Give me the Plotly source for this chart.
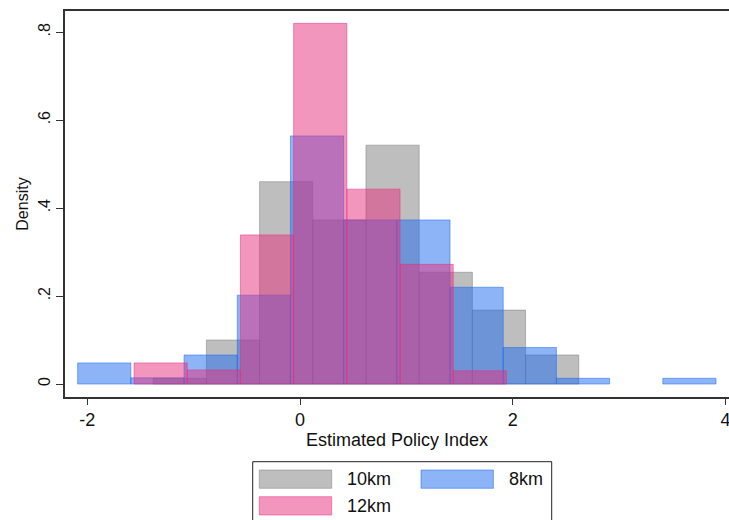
import plotly.graph_objects as go

# histogram bins (left edge of each bin) and densities
bin_width = 0.5

km10_bins = [-1.38, -0.88, -0.38, 0.12, 0.62, 1.12, 1.62, 2.12]
km10_density = [0.013, 0.10, 0.46, 0.373, 0.543, 0.254, 0.168, 0.066]

km8_bins = [-2.09, -1.59, -1.09, -0.59, -0.09, 0.41, 0.91, 1.41, 1.91, 2.41, 2.91, 3.41]
km8_density = [0.048, 0.014, 0.066, 0.202, 0.564, 0.373, 0.373, 0.22, 0.083, 0.013, 0.0, 0.013]

km12_bins = [-1.56, -1.06, -0.56, -0.06, 0.44, 0.94, 1.44]
km12_density = [0.048, 0.032, 0.339, 0.82, 0.443, 0.272, 0.030]

y_ticks = [0, 0.2, 0.4, 0.6, 0.8]
y_tick_text = ["0", ".2", ".4", ".6", ".8"]
x_ticks = [-2, 0, 2, 4]
x_tick_text = ["-2", "0", "2", "4"]

gray = "rgba(125,125,125,0.5)"
blue = "rgba(25,105,238,0.5)"
pink = "rgba(232,45,125,0.5)"

series = [
    ("10km", km10_bins, km10_density, gray),
    ("8km", km8_bins, km8_density, blue),
    ("12km", km12_bins, km12_density, pink),
]

fig = go.Figure()
for name, bins, dens, col in series:
    # empty bins get no outline
    lw = [1 if d > 0 else 0 for d in dens]
    fig.add_trace(go.Bar(
        x=bins, y=dens, width=bin_width, offset=0, name=name,
        marker=dict(color=col, line=dict(color=col, width=lw)),
        showlegend=False,
    ))

# body margin is removed below, so figure pixels = window pixels
W, H = 729, 520
L, R, T, B = 65, 0, 11, 123


def px(x, y):
    # window pixel -> paper coords
    return (x - L) / (W - L - R), (H - B - y) / (H - T - B)


font = "Liberation Sans, Arial, sans-serif"
shapes = []
annotations = []

# legend box (hand drawn, Stata style), its bottom runs off the window
x0, y0 = px(252.7, 461.7)
x1, y1 = px(551.7, 535)
shapes.append(dict(type="rect", xref="paper", yref="paper", x0=x0, y0=y1, x1=x1, y1=y0,
                   line=dict(color="#222", width=1), fillcolor="white", layer="above"))

legend_items = [
    ("10km", gray, 259.3, 470, 345),
    ("8km", blue, 421, 470, 506.7),
    ("12km", pink, 259.3, 496.7, 345),
]
for name, col, sx, sy, tx in legend_items:
    a, b = px(sx, sy)
    c, d = px(sx + 72.4, sy + 18.3)
    shapes.append(dict(type="rect", xref="paper", yref="paper", x0=a, y0=d, x1=c, y1=b,
                       fillcolor=col, line=dict(color=col, width=1), layer="above"))
    tx_p, ty_p = px(tx, sy + 9.2)
    annotations.append(dict(text=name, xref="paper", yref="paper", x=tx_p, y=ty_p,
                            xanchor="left", yanchor="middle", showarrow=False,
                            font=dict(family=font, size=18, color="#111")))

fig.update_layout(
    width=W, height=H,
    margin=dict(l=L, r=R, t=T, b=B, autoexpand=False),
    barmode="overlay",
    plot_bgcolor="white",
    paper_bgcolor="white",
    font=dict(family=font, size=17, color="#111"),
    shapes=shapes,
    annotations=annotations,
    xaxis=dict(
        range=[-2.209, 4.032],
        tickvals=x_ticks, ticktext=x_tick_text,
        ticks="outside", ticklen=6, tickcolor="#333",
        showline=True, linecolor="#333", linewidth=1.5, mirror=True,
        showgrid=False, zeroline=False, automargin=False,
        tickfont=dict(size=18),
        ticklabeloverflow="allow",
        title=dict(text="Estimated Policy Index", font=dict(size=18), standoff=4),
    ),
    yaxis=dict(
        range=[-0.0295, 0.848],
        tickvals=y_ticks, ticktext=y_tick_text,
        tickangle=-90,
        ticks="outside", ticklen=7, tickcolor="#333",
        showline=True, linecolor="#333", linewidth=1.5,
        showgrid=False, zeroline=False, automargin=False,
        tickfont=dict(size=16),
        title=dict(text="Density", font=dict(size=16), standoff=3),
    ),
)

fig.write_html(
    "out.html",
    config={"displayModeBar": False},
    post_script="document.body.style.margin='0';document.body.style.overflow='hidden';",
)
